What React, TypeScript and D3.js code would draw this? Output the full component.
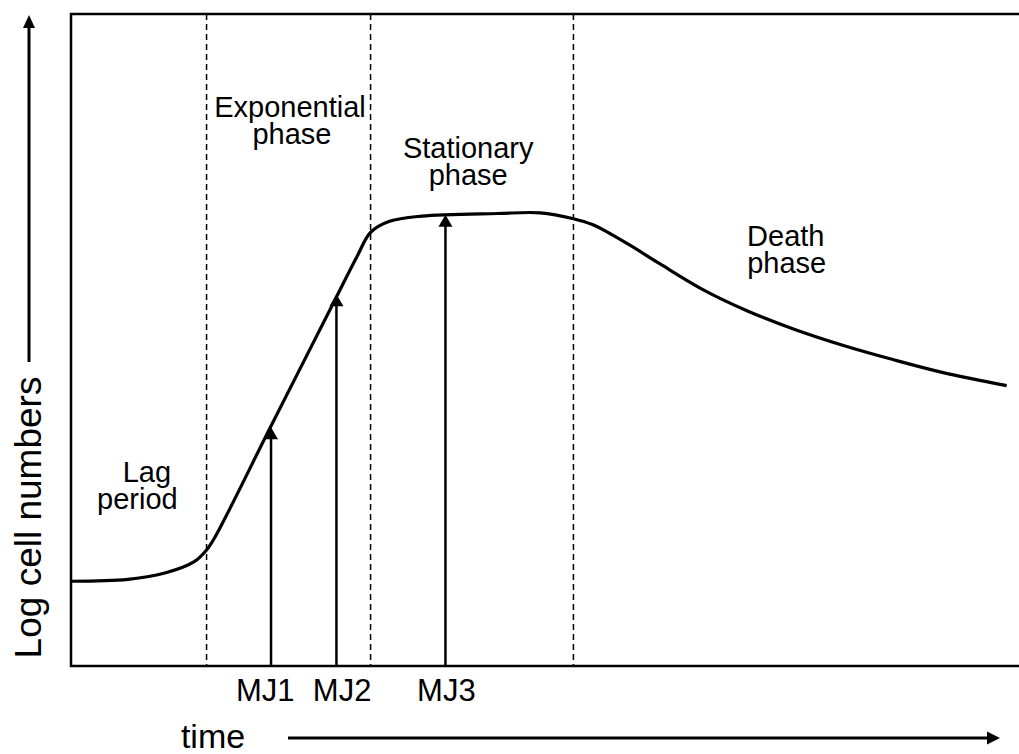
import React from 'react';
import * as d3 from 'd3';

// growth curve (time in arbitrary units, log cell number in arbitrary units)
const growthTime = [0, 6, 10, 13, 14.3, 15.2, 21.1, 28.0, 30.2, 31.6, 33.6, 37, 45, 49.5, 53, 55, 57, 59, 62.1, 66.7, 71.3, 76.2, 81.4, 86.7, 92.0, 98.7];
const logCells = [1.30, 1.33, 1.43, 1.60, 1.78, 1.98, 3.68, 5.66, 6.29, 6.65, 6.82, 6.90, 6.94, 6.95, 6.86, 6.77, 6.62, 6.45, 6.17, 5.77, 5.45, 5.17, 4.92, 4.70, 4.50, 4.30];

// dashed phase boundaries
const phaseBounds = [14.3, 31.6, 53.0];

// sampling points
const mjLabels = ['MJ1', 'MJ2', 'MJ3'];
const mjTimes = [21.1, 28.0, 39.5];
const mjValues = [3.66, 5.70, 6.92];
const mjLabelTimes = [20.5, 28.6, 39.6];

const phaseNames = [['Lag', 'period'], ['Exponential', 'phase'], ['Stationary', 'phase'], ['Death', 'phase']];

const W = 1019;
const H = 754;
const FONT = '"Liberation Sans", Arial, Helvetica, sans-serif';

export default function App() {
  const x = d3.scaleLinear().domain([0, 100]).range([71, 1019]);
  const y = d3.scaleLinear().domain([0, 10]).range([666, 14]);

  const pts: [number, number][] = growthTime.map((t, i) => [t, logCells[i]]);
  const line = d3.line<[number, number]>()
    .x(d => x(d[0]))
    .y(d => y(d[1]))
    .curve(d3.curveCatmullRom.alpha(0.5));

  // label anchors in data units: centre per line, first baseline
  const labelPos: { t: number[]; v: number }[] = [
    { t: [8.0, 7.0], v: 2.82 },
    { t: [23.1, 23.3], v: 8.42 },
    { t: [41.9, 41.9], v: 7.79 },
    { t: [75.4, 75.5], v: 6.44 },
  ];

  const [x0, x1] = x.range();
  const [yb, yt] = y.range();

  return (
    <svg width={W} height={H} style={{ position: 'absolute', left: 0, top: 0, background: '#fff' }}
      fontFamily={FONT}>
      <rect width={W} height={H} fill="#fff" />

      {/* frame */}
      <path d={`M${x1 + 5},${yt} H${x0} V${yb} H${x1 + 5}`} fill="none" stroke="#000" strokeWidth={2.5} />

      {/* phase boundaries */}
      {phaseBounds.map((t, i) => (
        <line key={i} x1={x(t)} x2={x(t)} y1={yt} y2={yb} stroke="#000" strokeWidth={1.5} strokeDasharray="6,4" />
      ))}

      {/* growth curve */}
      <path d={line(pts) || ''} fill="none" stroke="#000" strokeWidth={3.2} strokeLinejoin="round" />

      {/* MJ arrows */}
      {mjTimes.map((t, i) => {
        const ax = x(t);
        const tip = y(mjValues[i]);
        return (
          <g key={i}>
            <line x1={ax} x2={ax} y1={yb} y2={tip + 10} stroke="#000" strokeWidth={2.5} />
            <path d={`M${ax},${tip} L${ax - 7},${tip + 12} L${ax + 7},${tip + 12} Z`} fill="#000" />
            <text x={x(mjLabelTimes[i])} y={yb + 35} textAnchor="middle" fontSize={31}>{mjLabels[i]}</text>
          </g>
        );
      })}

      {/* phase labels */}
      {phaseNames.map((lines, i) => (
        <g key={i}>
          {lines.map((s, j) => (
            <text key={j} x={x(labelPos[i].t[j])} y={y(labelPos[i].v) + j * 26.5} textAnchor="middle" fontSize={29}>{s}</text>
          ))}
        </g>
      ))}

      {/* y axis label + arrow */}
      <text transform={`translate(41,${(657 + 378) / 2}) rotate(-90)`} textAnchor="middle" fontSize={37}>Log cell numbers</text>
      <line x1={29} x2={29} y1={362} y2={26} stroke="#000" strokeWidth={3} />
      <path d="M29,15 L23,28 L35,28 Z" fill="#000" />

      {/* x axis label + arrow */}
      <text x={213} y={748} textAnchor="middle" fontSize={34}>time</text>
      <line x1={288} x2={990} y1={738} y2={738} stroke="#000" strokeWidth={3} />
      <path d="M1000,738 L987,731.5 L987,744.5 Z" fill="#000" />
    </svg>
  );
}
